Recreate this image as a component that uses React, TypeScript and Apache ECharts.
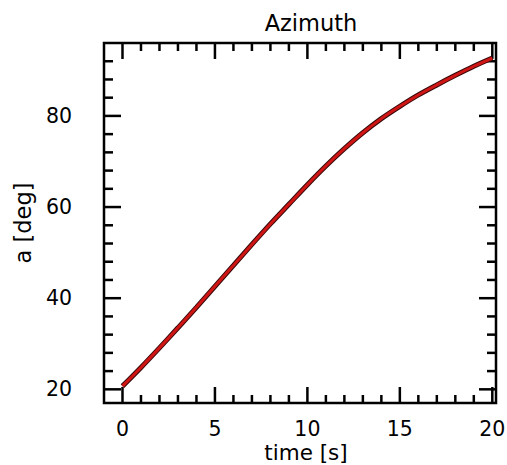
import React, { useEffect, useRef } from "react";
import * as echarts from "echarts";

const TITLE = "Azimuth";
const X_NAME = "time [s]";
const Y_NAME = "a [deg]";

const timeValues = [0, 1, 2, 3, 4, 5, 6, 7, 8, 9, 10, 11, 12, 13, 14, 15, 16, 17, 18, 19, 20];
const azimuthValues = [
  20.7, 24.8, 29.1, 33.5, 38.0, 42.6, 47.2, 51.8, 56.3, 60.6, 64.9, 69.0, 72.8, 76.3, 79.4,
  82.1, 84.6, 86.8, 88.9, 90.9, 92.7,
];

const xMajorTicks = [0, 5, 10, 15, 20];
const xMinorTicks = [0, 1, 2, 3, 4, 5, 6, 7, 8, 9, 10, 11, 12, 13, 14, 15, 16, 17, 18, 19, 20];
const yMajorTicks = [20, 40, 60, 80];
const yMinorTicks = [20, 24, 28, 32, 36, 40, 44, 48, 52, 56, 60, 64, 68, 72, 76, 80, 84, 88, 92];

const X_MIN = -1;
const X_MAX = 20.2;
const Y_MIN = 17;
const Y_MAX = 96;

const FONT = "DejaVu Sans";
const MAJOR_LEN = 16;
const MINOR_LEN = 8;

export default function App() {
  const ref = useRef<HTMLDivElement>(null);

  useEffect(() => {
    if (!ref.current) return;
    const chart = echarts.init(ref.current, undefined, { renderer: "svg" });
    const data = timeValues.map((t, i) => [t, azimuthValues[i]]);
    const xTickData = xMinorTicks.map((v) => [v, Y_MIN, xMajorTicks.includes(v) ? MAJOR_LEN : MINOR_LEN]);
    const yTickData = yMinorTicks.map((v) => [X_MIN, v, yMajorTicks.includes(v) ? MAJOR_LEN + 1 : MINOR_LEN + 1]);
    const tickStyle = { stroke: "#000", lineWidth: 2.5 };

    chart.setOption({
      animation: false,
      backgroundColor: "#fff",
      title: {
        text: TITLE,
        left: 306,
        top: 6,
        textAlign: "center",
        textStyle: { fontFamily: FONT, fontSize: 22.5, fontWeight: "normal", color: "#000" },
      },
      grid: {
        left: 104,
        top: 43,
        right: 11,
        bottom: 62,
        containLabel: false,
        outerBoundsMode: "none",
        show: true,
        borderColor: "#000",
        borderWidth: 2.5,
        backgroundColor: "transparent",
      },
      xAxis: {
        type: "value",
        min: X_MIN,
        max: X_MAX,
        axisLine: { show: false },
        splitLine: { show: false },
        axisTick: { show: false },
        axisLabel: {
          customValues: xMajorTicks,
          margin: 15,
          fontFamily: FONT,
          fontSize: 20.5,
          lineHeight: 22,
          color: "#000",
        },
        name: X_NAME,
        nameLocation: "middle",
        nameGap: 38,
        nameMoveOverlap: false,
        nameTextStyle: {
          fontFamily: FONT,
          fontSize: 21.5,
          lineHeight: 22,
          color: "#000",
          padding: [0, 0, 0, 12],
        },
      },
      yAxis: {
        type: "value",
        min: Y_MIN,
        max: Y_MAX,
        axisLine: { show: false },
        splitLine: { show: false },
        axisTick: { show: false },
        axisLabel: {
          customValues: yMajorTicks,
          margin: 32,
          fontFamily: FONT,
          fontSize: 20.5,
          color: "#000",
        },
        name: Y_NAME,
        nameLocation: "middle",
        nameGap: 70,
        nameRotate: 90,
        nameMoveOverlap: false,
        nameTextStyle: { fontFamily: FONT, fontSize: 22.5, color: "#000" },
      },
      series: [
        {
          type: "custom",
          name: "xTicks",
          data: xTickData,
          clip: false,
          silent: true,
          z: 1,
          renderItem: (params: any, api: any) => {
            const v = api.value(0);
            const len = api.value(2);
            const b = api.coord([v, Y_MIN]);
            const t = api.coord([v, Y_MAX]);
            return {
              type: "group",
              children: [
                { type: "line", shape: { x1: b[0], y1: b[1], x2: b[0], y2: b[1] - len }, style: tickStyle },
                { type: "line", shape: { x1: t[0], y1: t[1], x2: t[0], y2: t[1] + len }, style: tickStyle },
              ],
            };
          },
        },
        {
          type: "custom",
          name: "yTicks",
          data: yTickData,
          clip: false,
          silent: true,
          z: 1,
          renderItem: (params: any, api: any) => {
            const v = api.value(1);
            const len = api.value(2);
            const l = api.coord([X_MIN, v]);
            const r = api.coord([X_MAX, v]);
            return {
              type: "group",
              children: [
                { type: "line", shape: { x1: l[0], y1: l[1], x2: l[0] + len, y2: l[1] }, style: tickStyle },
                { type: "line", shape: { x1: r[0], y1: r[1], x2: r[0] - len, y2: r[1] }, style: tickStyle },
              ],
            };
          },
        },
        {
          type: "line",
          data,
          smooth: 0.3,
          showSymbol: false,
          lineStyle: { color: "#3a0a0a", width: 5 },
          silent: true,
          z: 3,
        },
        {
          type: "line",
          data,
          smooth: 0.3,
          showSymbol: false,
          lineStyle: { color: "#d01515", width: 3 },
          silent: true,
          z: 4,
        },
      ],
    });
    return () => chart.dispose();
  }, []);

  return (
    <div
      ref={ref}
      style={{ position: "fixed", left: 0, top: 0, width: 507, height: 465, background: "#fff" }}
    />
  );
}
